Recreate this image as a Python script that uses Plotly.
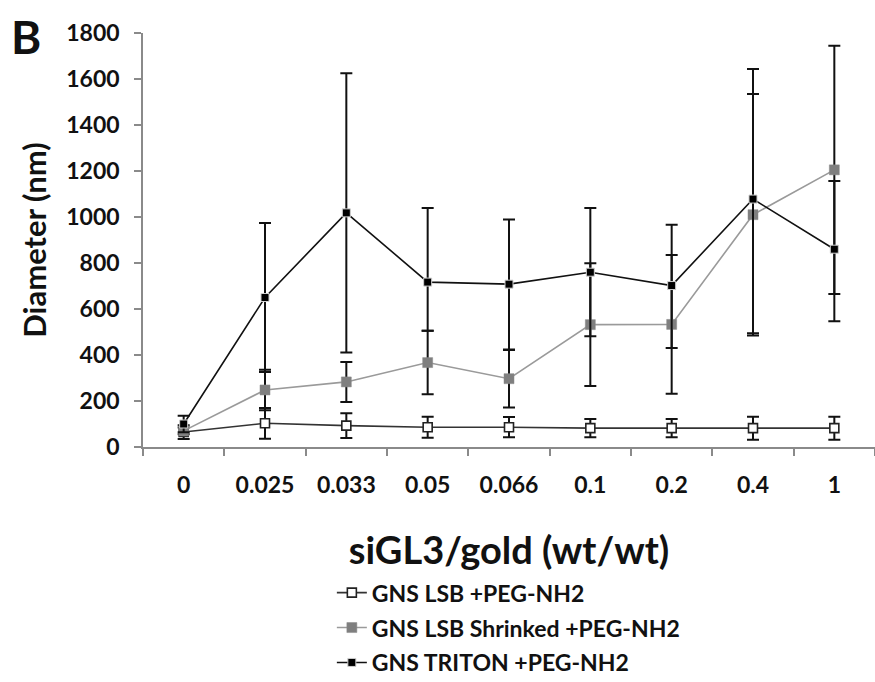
import plotly.graph_objects as go

categories = ["0", "0.025", "0.033", "0.05", "0.066", "0.1", "0.2", "0.4", "1"]

lsb = [65, 103, 93, 86, 86, 82, 82, 82, 82]
lsb_err = [30, 67, 54, 46, 44, 40, 40, 50, 50]

shrinked = [70, 248, 283, 367, 297, 532, 533, 1010, 1205]
shrinked_err = [15, 88, 87, 138, 125, 267, 302, 525, 540]

triton = [100, 650, 1018, 717, 708, 760, 702, 1078, 860]
triton_plus = [36, 324, 607, 322, 281, 279, 264, 565, 297]
triton_minus = [36, 324, 607, 212, 284, 279, 272, 583, 313]

names = ["GNS LSB +PEG-NH2", "GNS LSB Shrinked +PEG-NH2", "GNS TRITON +PEG-NH2"]

FONT = "Lato"
err_style = dict(type="data", color="#111111", thickness=2, width=6, visible=True)

fig = go.Figure()
fig.add_trace(go.Scatter(
    x=categories, y=lsb, name=names[0], mode="lines+markers", legendgroup="a",
    line=dict(color="#333333", width=1.6),
    marker=dict(symbol="square", size=9, color="white", line=dict(color="#222222", width=1.6)),
    error_y=dict(array=lsb_err, **err_style),
))
fig.add_trace(go.Scatter(
    x=categories, y=shrinked, name=names[1], mode="lines+markers", legendgroup="b",
    line=dict(color="#9a9a9a", width=1.6),
    marker=dict(symbol="square", size=10, color="#7f7f7f", line=dict(color="#8a8a8a", width=0.5)),
    error_y=dict(array=shrinked_err, **err_style),
))
fig.add_trace(go.Scatter(
    x=categories, y=triton, name=names[2], mode="lines+markers", legendgroup="c",
    line=dict(color="#111111", width=1.6),
    marker=dict(symbol="square", size=8, color="#000000", line=dict(color="#cfcfcf", width=1)),
    error_y=dict(array=triton_plus, arrayminus=triton_minus, symmetric=False, **err_style),
))

fig.update_layout(
    width=875, height=682,
    margin=dict(l=143, r=0, t=33, b=235, autoexpand=False),
    paper_bgcolor="white", plot_bgcolor="white",
    font=dict(family=FONT, color="#111111"),
    showlegend=True,
    legend=dict(
        x=0.258, y=-0.30, xanchor="left", yanchor="top",
        font=dict(family=FONT, size=23, color="#111111", weight="bold"),
        tracegroupgap=2, traceorder="grouped", bgcolor="rgba(0,0,0,0)",
    ),
    xaxis=dict(
        type="category", range=[-0.5, 8.5],
        showline=True, linecolor="#8a8a8a", linewidth=1.5,
        ticks="outside", tickson="boundaries", ticklen=7, tickcolor="#8a8a8a", tickwidth=1.5,
        showgrid=False, zeroline=False,
        tickfont=dict(family=FONT, size=23, color="#111111", weight="bold"),
        ticklabelstandoff=17,
        title=dict(text="<b>siGL3/gold (wt/wt)</b>", font=dict(family=FONT, size=38, color="#111111"), standoff=40),
    ),
    yaxis=dict(
        range=[0, 1800], tickvals=[0, 200, 400, 600, 800, 1000, 1200, 1400, 1600, 1800],
        showline=True, linecolor="#8a8a8a", linewidth=1.5,
        ticks="outside", ticklen=7, tickcolor="#8a8a8a", tickwidth=1.5,
        showgrid=False, zeroline=False,
        tickfont=dict(family=FONT, size=23, color="#111111", weight="bold"),
        ticklabelstandoff=10,
        title=dict(text="<b>Diameter (nm)</b>", font=dict(family=FONT, size=31, color="#111111"), standoff=10),
    ),
    annotations=[dict(
        text="<b>B</b>", xref="paper", yref="paper", x=-0.183, y=1.062, xanchor="left", yanchor="top",
        showarrow=False, font=dict(family=FONT, size=46, color="#111111"),
    )],
)

fig.write_html("out.html")
